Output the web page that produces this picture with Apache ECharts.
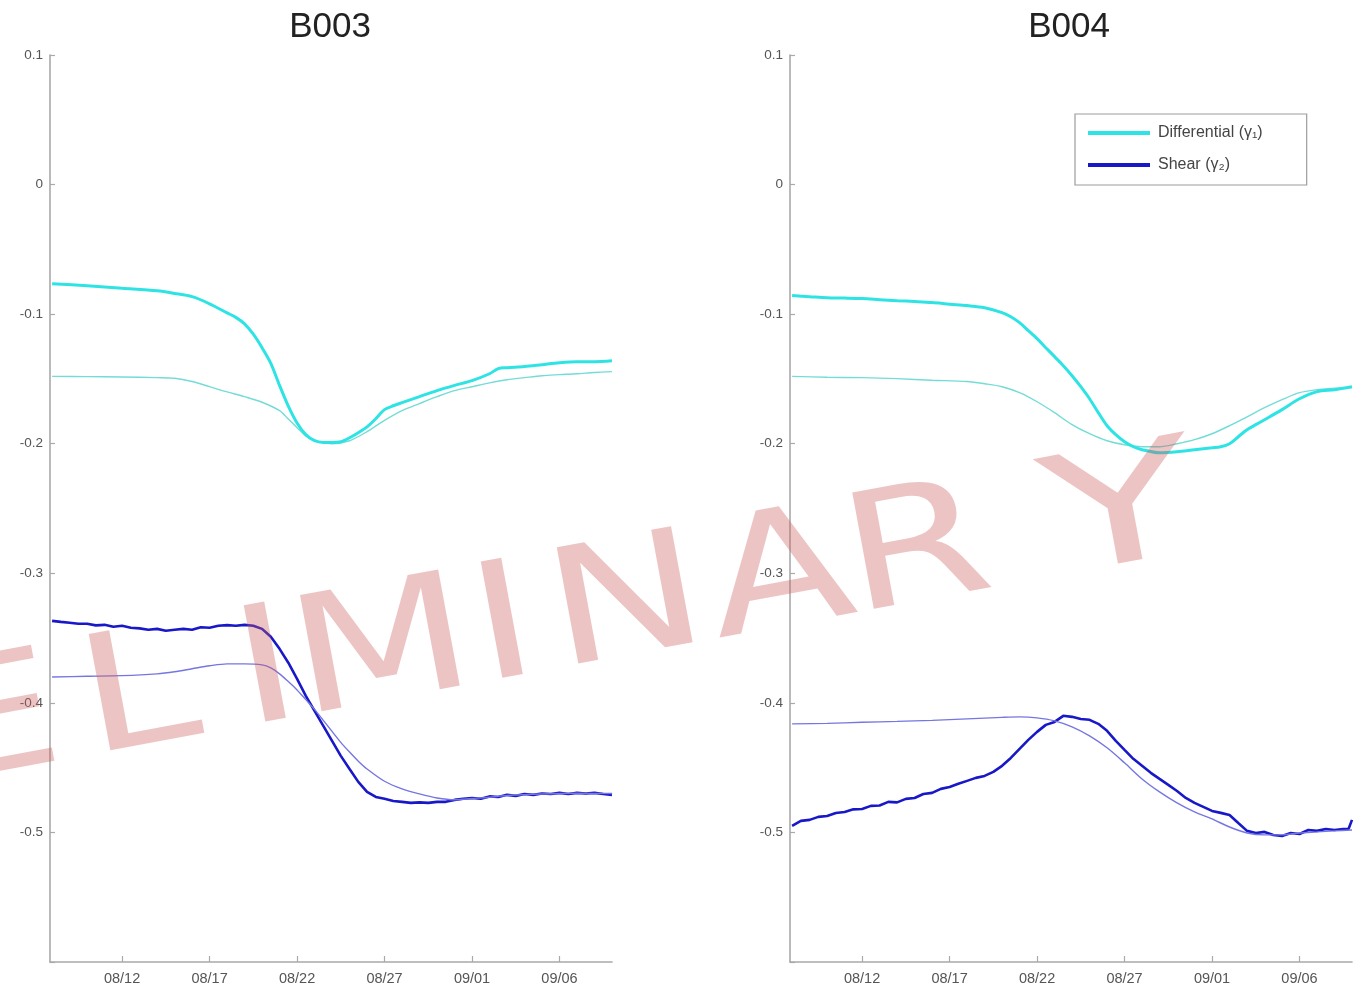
<!DOCTYPE html>
<html>
<head>
<meta charset="utf-8">
<title>B003 / B004 strain</title>
<script src="https://cdn.jsdelivr.net/npm/echarts@6/dist/echarts.min.js"></script>
<style>
  html, body { margin: 0; padding: 0; background: #fff; }
  #chart { width: 1363px; height: 988px; }
</style>
</head>
<body>
<div id="chart"></div>
<script>
// Time is counted in days after 08/08.
const xTickDays = [4, 9, 14, 19, 24, 29];
const xTickLabels = ['08/12', '08/17', '08/22', '08/27', '09/01', '09/06'];
const stations = ['B003', 'B004'];
const legendNames = ['Differential (\u03b3\u2081)', 'Shear (\u03b3\u2082)'];

// Half-day sampling for the shear records
const halfDays = [0, 0.5, 1, 1.5, 2, 2.5, 3, 3.5, 4, 4.5, 5, 5.5, 6, 6.5, 7, 7.5, 8, 8.5, 9, 9.5,
  10, 10.5, 11, 11.5, 12, 12.5, 13, 13.5, 14, 14.5, 15, 15.5, 16, 16.5, 17, 17.5, 18, 18.5, 19, 19.5,
  20, 20.5, 21, 21.5, 22, 22.5, 23, 23.5, 24, 24.5, 25, 25.5, 26, 26.5, 27, 27.5, 28, 28.5, 29, 29.5,
  30, 30.5, 31, 31.5, 32];

// ---- B003 ----
const b003DiffDays = [0, 2, 4, 6, 7, 8, 9, 10, 10.5, 11, 11.5, 12, 12.5, 13, 13.5, 14, 14.5, 15, 15.5, 16, 16.5,
  17, 17.5, 18, 18.5, 19, 19.5, 20, 21, 22, 23, 24, 25, 25.5, 26, 27, 28, 29, 30, 31, 32];
const b003Diff = [-0.0765, -0.078, -0.080, -0.082, -0.084, -0.0865, -0.092, -0.099, -0.1025, -0.1075, -0.1155,
  -0.126, -0.138, -0.155, -0.171, -0.184, -0.193, -0.1977, -0.199, -0.199, -0.1985,
  -0.1954, -0.1915, -0.187, -0.1807, -0.1737, -0.1707, -0.1683, -0.1637, -0.159, -0.155,
  -0.1513, -0.146, -0.142, -0.1413, -0.1405, -0.139, -0.1375, -0.1367, -0.1367, -0.136];

const b003DiffFitDays = [0, 2, 4, 6, 7, 8, 9, 10, 11, 12, 13, 13.5, 14, 14.5, 15, 15.5, 16,
  17, 18, 19, 20, 21, 22, 23, 24, 25, 26, 27, 28, 29, 30, 31, 32];
const b003DiffFit = [-0.148, -0.1482, -0.1485, -0.149, -0.1495, -0.152, -0.156, -0.160, -0.1637, -0.168,
  -0.1745, -0.181, -0.1876, -0.194, -0.1977, -0.199, -0.200,
  -0.1977, -0.1907, -0.182, -0.1745, -0.169, -0.1637, -0.159, -0.156, -0.153, -0.1506,
  -0.149, -0.1475, -0.1467, -0.146, -0.145, -0.1444];

const b003Shear = [-0.3367, -0.3375, -0.3382, -0.339, -0.339, -0.3402, -0.3398, -0.3413, -0.3405, -0.342,
  -0.3425, -0.3436, -0.3429, -0.3444, -0.3436, -0.3429, -0.3436, -0.3417, -0.342, -0.3405,
  -0.340, -0.3405, -0.3398, -0.3405, -0.3429, -0.349, -0.3583, -0.369, -0.3815, -0.3946,
  -0.4062, -0.4178, -0.4293, -0.4409, -0.451, -0.461, -0.4687, -0.4726, -0.474, -0.4757,
  -0.4764, -0.4772, -0.4768, -0.4772, -0.4764, -0.4764, -0.4749, -0.474, -0.4734, -0.474,
  -0.4722, -0.4726, -0.471, -0.4718, -0.4703, -0.471, -0.4699, -0.4703, -0.4695, -0.4703,
  -0.4695, -0.4699, -0.4695, -0.4703, -0.471];

const b003ShearFitDays = [0, 2, 4, 6, 7, 8, 9, 10, 11, 12, 12.5, 13, 13.5, 14, 14.5, 15, 15.5, 16, 16.5,
  17, 17.5, 18, 19, 20, 21, 22, 23, 24, 25, 26, 28, 30, 32];
const b003ShearFit = [-0.380, -0.3795, -0.379, -0.3776, -0.376, -0.3737, -0.3714, -0.3699, -0.3699, -0.3707,
  -0.373, -0.3776, -0.3836, -0.390, -0.3975, -0.405, -0.4135, -0.422, -0.4305,
  -0.438, -0.445, -0.451, -0.4605, -0.4664, -0.4703, -0.4734, -0.4748, -0.4738, -0.4728, -0.4715,
  -0.4703, -0.4698, -0.470];

// ---- B004 ----
const b004DiffDays = [0, 1, 2, 3, 4, 5, 6, 7, 8, 9, 10, 11, 12, 12.5, 13, 13.5, 14, 14.5, 15, 15.5,
  16, 16.5, 17, 17.5, 18, 18.5, 19, 19.5, 20, 21, 22, 23, 24, 24.5, 25, 25.5, 26, 26.5, 27,
  28, 29, 30, 31, 32];
const b004Diff = [-0.0857, -0.0865, -0.0873, -0.0876, -0.088, -0.0888, -0.0896, -0.0903, -0.0911, -0.0923,
  -0.0934, -0.095, -0.0988, -0.102, -0.1066, -0.1127, -0.1189, -0.1259, -0.1328, -0.1398,
  -0.1475, -0.156, -0.1653, -0.176, -0.1861, -0.193, -0.1985, -0.2023, -0.2046, -0.207,
  -0.2062, -0.2046, -0.2031, -0.2023, -0.200, -0.1946, -0.1892, -0.1853, -0.1815,
  -0.1737, -0.1653, -0.1598, -0.1583, -0.156];

const b004DiffFitDays = [0, 2, 4, 6, 8, 10, 11, 12, 13, 14, 15, 16, 17, 18, 19, 20, 21, 22, 23, 24,
  25, 26, 27, 28, 29, 30, 31, 32];
const b004DiffFit = [-0.148, -0.1487, -0.149, -0.1498, -0.151, -0.152, -0.1537, -0.156, -0.1606, -0.1676,
  -0.176, -0.1853, -0.1923, -0.1977, -0.2008, -0.2023, -0.2023, -0.200, -0.1969, -0.1923,
  -0.1861, -0.1792, -0.1722, -0.166, -0.1606, -0.1583, -0.1571, -0.1567];

const b004ShearDays = halfDays.slice(0, 64).concat([31.8, 32]);
const b004Shear = [-0.495, -0.4911, -0.4903, -0.488, -0.4873, -0.485, -0.4842, -0.4822, -0.4819, -0.4795,
  -0.4792, -0.4764, -0.4768, -0.4741, -0.4734, -0.4703, -0.4695, -0.4664, -0.4649, -0.4625,
  -0.4602, -0.4579, -0.4564, -0.4533, -0.4486, -0.4425, -0.4355, -0.4286, -0.4224, -0.417,
  -0.4147, -0.41, -0.4108, -0.4124, -0.4131, -0.4162, -0.4216, -0.4293, -0.4363, -0.4432,
  -0.4486, -0.454, -0.4587, -0.4633, -0.468, -0.4734, -0.4772, -0.4803, -0.4834, -0.4849,
  -0.4865, -0.4927, -0.4988, -0.5004, -0.4996, -0.502, -0.5027, -0.5004, -0.5012, -0.4981,
  -0.4988, -0.4973, -0.4981, -0.4973, -0.4973, -0.4903];

const b004ShearFitDays = [0, 2, 4, 6, 8, 10, 12, 13, 14, 15, 16, 17, 18, 19, 20, 21, 22, 23, 24, 25,
  26, 27, 28, 29, 30, 31, 32];
const b004ShearFit = [-0.4162, -0.4158, -0.415, -0.4143, -0.4135, -0.4124, -0.4112, -0.4108, -0.4116, -0.4139,
  -0.4185, -0.4255, -0.4347, -0.4463, -0.4587, -0.4687, -0.4772, -0.4842, -0.4896, -0.4958,
  -0.5004, -0.5019, -0.5019, -0.5004, -0.4996, -0.4988, -0.4981];

// ---- drawing ----
const COLORS = {
  diff: '#2ee3e3',
  diffFit: '#74dcd6',
  shear: '#1818c8',
  shearFit: '#7676e2'
};
const axisGray = '#a9a9a9';
const labelGray = '#555555';
const FONT = 'Liberation Sans, Arial, Helvetica, sans-serif';

// Draft stamp: one glyph per entry, spaced along a tilted line (local offsets in px)
const STAMP_LETTERS = ['P', 'R', 'E', 'L', 'I', 'M', 'I', 'N', 'A', 'R', 'Y'];
const STAMP_OFFSETS = [-690, -545, -395, -247, -117, 0, 124, 249, 405, 544, 752];
const STAMP_WIDTHS  = [1.3, 1.3, 1.3, 1.3, 1.3, 1.3, 1.3, 1.3, 1.3, 1.3, 1.55];

function pairs(xs, ys) { return xs.map((x, i) => [x, ys[i]]); }

function lineSeries(name, idx, xs, ys, color, width, smooth, z) {
  return {
    type: 'line', name: name, xAxisIndex: idx, yAxisIndex: idx,
    data: pairs(xs, ys), showSymbol: false, symbol: 'none', smooth: smooth,
    lineStyle: { color: color, width: width },
    itemStyle: { color: color },
    z: z, silent: true
  };
}

function xAxisFor(idx) {
  return {
    type: 'value', gridIndex: idx, min: -0.12, max: 32,
    axisLine: { show: true, onZero: false, lineStyle: { color: axisGray, width: 1.6 } },
    axisTick: { show: true, inside: true, length: 6, customValues: xTickDays, lineStyle: { color: axisGray, width: 1.2 } },
    axisLabel: {
      customValues: xTickDays, margin: 9, color: labelGray, fontSize: 14.5, fontFamily: FONT,
      formatter: v => { const i = xTickDays.indexOf(Math.round(v)); return i >= 0 ? xTickLabels[i] : ''; }
    },
    splitLine: { show: false }
  };
}

function yAxisFor(idx) {
  return {
    type: 'value', gridIndex: idx, min: -0.6, max: 0.1, interval: 0.1,
    axisLine: { show: true, onZero: false, lineStyle: { color: axisGray, width: 1.6 } },
    axisTick: { show: true, inside: true, length: 5, lineStyle: { color: axisGray, width: 1.2 } },
    axisLabel: {
      margin: 7, color: labelGray, fontSize: 13.5, fontFamily: FONT,
      formatter: v => {
        if (v < -0.55) return '';
        if (Math.abs(v) < 1e-9) return '0';
        return v.toFixed(1);
      }
    },
    splitLine: { show: false }
  };
}

const chart = echarts.init(document.getElementById('chart'), null, { renderer: 'canvas' });

const titleStyle = { fontFamily: FONT, fontSize: 35, fontWeight: 'normal', color: '#222' };

const option = {
  animation: false,
  backgroundColor: '#ffffff',
  title: [
    { text: stations[0], left: 325, top: 5, textAlign: 'center', textStyle: titleStyle },
    { text: stations[1], left: 1064, top: 5, textAlign: 'center', textStyle: titleStyle }
  ],
  grid: [
    { left: 50, right: 751, top: 55, bottom: 26, containLabel: false },
    { left: 790, right: 11, top: 55, bottom: 26, containLabel: false }
  ],
  xAxis: [xAxisFor(0), xAxisFor(1)],
  yAxis: [yAxisFor(0), yAxisFor(1)],
  legend: {
    data: legendNames,
    orient: 'vertical', left: 1075, top: 114,
    padding: [10, 44, 11, 13], itemGap: 14,
    itemWidth: 62, itemHeight: 4, icon: 'rect',
    borderColor: '#9c9c9c', borderWidth: 1.2, borderRadius: 0,
    backgroundColor: '#fff',
    textStyle: { fontFamily: FONT, fontSize: 16, lineHeight: 18, color: '#444', padding: [0, 0, 0, 3] },
    selectedMode: false
  },
  series: [
    lineSeries('Differential fit', 0, b003DiffFitDays, b003DiffFit, COLORS.diffFit, 1.4, 0.3, 2),
    lineSeries(legendNames[0], 0, b003DiffDays, b003Diff, COLORS.diff, 3, 0.3, 3),
    lineSeries('Shear fit', 0, b003ShearFitDays, b003ShearFit, COLORS.shearFit, 1.4, 0.3, 4),
    lineSeries(legendNames[1], 0, halfDays, b003Shear, COLORS.shear, 2.6, false, 3),

    lineSeries('Differential fit', 1, b004DiffFitDays, b004DiffFit, COLORS.diffFit, 1.4, 0.3, 2),
    lineSeries(legendNames[0], 1, b004DiffDays, b004Diff, COLORS.diff, 3, 0.3, 3),
    lineSeries('Shear fit', 1, b004ShearFitDays, b004ShearFit, COLORS.shearFit, 1.4, 0.3, 4),
    lineSeries(legendNames[1], 1, b004ShearDays, b004Shear, COLORS.shear, 2.6, false, 3)
  ],
  graphic: [
    {
      // diagonal draft stamp across both panels
      type: 'group', silent: true,
      x: 383, y: 657,
      rotation: 10.5 * Math.PI / 180,
      children: STAMP_LETTERS.map((ch, i) => ({
        type: 'text', z: 100, silent: true,
        x: STAMP_OFFSETS[i], y: 0,
        scaleX: STAMP_WIDTHS[i], scaleY: 1,
        style: {
          text: ch,
          fontFamily: 'DejaVu Sans, Liberation Sans, sans-serif',
          fontSize: 162,
          fill: 'rgba(205, 92, 92, 0.36)',
          align: 'center', verticalAlign: 'middle'
        }
      }))
    }
  ]
};

chart.setOption(option);
</script>
</body>
</html>
